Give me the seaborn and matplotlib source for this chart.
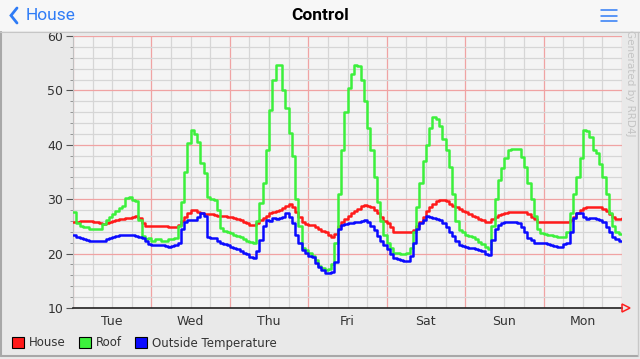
import numpy as np
import pandas as pd
import matplotlib
matplotlib.use("Agg")
import matplotlib.pyplot as plt
import seaborn as sns
from matplotlib.patches import Patch, Rectangle
from matplotlib.lines import Line2D

# hourly readings from Tue 00:00; one row per day, last value = end of week
hours = np.arange(0, 169)

house = [
    25.8, 25.8, 26.0, 26.0, 26.0, 26.0, 25.8, 25.8, 25.6, 25.5, 25.6, 25.8, 26.0, 26.2, 26.3, 26.4, 26.5, 26.6, 26.8, 26.9, 26.6, 25.6, 25.0, 25.0,
    25.0, 25.1, 25.1, 25.0, 25.0, 24.9, 24.9, 24.9, 25.2, 26.0, 26.8, 27.5, 28.0, 28.0, 27.6, 27.4, 27.3, 27.3, 27.2, 27.1, 27.0, 27.0, 26.9, 26.8,
    26.7, 26.5, 26.3, 26.1, 25.8, 25.6, 25.3, 25.2, 25.6, 26.1, 26.6, 27.0, 27.4, 27.7, 27.9, 28.1, 28.4, 28.7, 29.2, 28.6, 27.6, 26.8, 25.8, 25.5,
    25.3, 25.2, 24.9, 24.6, 24.2, 23.9, 23.5, 23.1, 23.6, 25.0, 25.8, 26.4, 27.0, 27.4, 27.8, 28.2, 28.7, 28.9, 28.8, 28.6, 28.0, 27.4, 26.8, 26.0,
    25.6, 24.8, 24.0, 24.0, 24.0, 24.0, 24.0, 24.0, 24.3, 25.0, 25.8, 26.8, 27.8, 28.6, 29.2, 29.6, 29.8, 29.8, 29.6, 29.2, 28.8, 28.5, 28.2, 27.9,
    27.6, 27.3, 27.0, 26.7, 26.4, 26.1, 25.8, 25.8, 26.3, 26.8, 27.1, 27.3, 27.5, 27.6, 27.6, 27.7, 27.7, 27.7, 27.6, 27.2, 26.8, 26.3, 25.9, 25.8,
    25.8, 25.8, 25.8, 25.8, 25.8, 25.8, 25.8, 25.8, 26.2, 26.8, 27.5, 28.0, 28.4, 28.6, 28.6, 28.6, 28.6, 28.5, 28.2, 27.8, 27.3, 26.8, 26.4, 26.4,
    26.5,
]

roof = [
    27.7, 25.6, 25.0, 24.9, 24.8, 24.6, 24.6, 24.6, 24.6, 25.5, 26.2, 26.8, 27.3, 27.8, 28.3, 28.8, 30.2, 30.4, 29.8, 29.6, 26.2, 23.2, 22.6, 22.8,
    22.4, 22.6, 22.6, 22.4, 22.4, 22.6, 22.6, 22.8, 25.0, 29.5, 35.0, 40.3, 42.7, 42.0, 40.5, 36.6, 34.8, 30.4, 30.0, 29.8, 28.0, 24.7, 24.2, 23.9,
    23.8, 23.5, 23.2, 23.0, 22.6, 22.4, 22.2, 22.0, 26.0, 29.3, 33.0, 39.0, 46.4, 51.9, 54.7, 54.7, 50.0, 46.8, 42.2, 38.0, 30.0, 25.0, 21.0, 20.6,
    20.2, 19.6, 18.8, 17.8, 17.4, 17.0, 17.2, 18.0, 22.0, 31.0, 39.0, 46.0, 50.5, 53.0, 54.7, 54.5, 52.0, 48.0, 43.0, 39.0, 34.0, 29.5, 26.0, 23.5,
    22.0, 21.0, 20.2, 20.1, 20.0, 20.0, 20.2, 21.0, 24.0, 28.6, 33.0, 37.0, 40.0, 43.0, 45.1, 44.8, 43.5, 41.0, 39.0, 36.0, 31.0, 26.0, 24.3, 24.0,
    23.5, 23.3, 23.0, 22.6, 22.2, 21.8, 21.2, 20.8, 25.0, 30.0, 33.5, 35.8, 37.5, 39.0, 39.3, 39.3, 39.2, 37.8, 36.0, 33.0, 30.0, 27.0, 24.5, 23.8,
    23.6, 23.5, 23.4, 23.2, 23.0, 23.0, 23.0, 24.0, 27.5, 31.0, 34.0, 37.5, 42.7, 42.5, 41.5, 39.0, 38.5, 36.5, 34.0, 31.0, 27.5, 25.0, 24.0, 23.6,
    23.6,
]

outside = [
    23.4, 23.1, 22.9, 22.7, 22.5, 22.4, 22.4, 22.4, 22.4, 22.4, 22.6, 22.9, 23.0, 23.2, 23.4, 23.4, 23.5, 23.5, 23.4, 23.3, 23.1, 22.8, 22.3, 21.8,
    21.6, 21.6, 21.5, 21.6, 21.4, 21.3, 21.4, 21.5, 22.0, 24.5, 25.8, 26.2, 26.2, 26.2, 26.8, 27.4, 27.0, 23.0, 22.9, 22.9, 22.4, 22.0, 21.8, 21.5,
    21.3, 21.0, 20.8, 20.5, 20.2, 19.9, 19.4, 19.2, 20.5, 22.5, 25.0, 26.2, 26.0, 26.5, 26.3, 26.6, 26.8, 27.4, 26.8, 25.6, 23.5, 22.0, 20.6, 20.1,
    19.6, 19.3, 18.3, 17.5, 17.0, 16.4, 16.5, 16.6, 18.5, 24.5, 25.3, 25.5, 25.6, 25.6, 25.8, 25.9, 26.0, 26.2, 25.8, 25.0, 24.3, 23.2, 22.3, 21.5,
    20.8, 20.0, 19.2, 19.0, 18.8, 18.7, 18.7, 19.5, 22.0, 24.5, 25.6, 26.2, 27.0, 26.8, 26.6, 26.3, 26.2, 25.6, 24.9, 24.0, 23.2, 22.3, 21.6, 21.4,
    21.3, 21.0, 21.0, 20.8, 20.7, 20.4, 20.0, 19.8, 22.5, 24.5, 25.3, 25.6, 25.9, 25.9, 25.9, 25.9, 25.6, 24.9, 24.0, 22.9, 22.5, 22.0, 22.0, 22.0,
    22.0, 21.8, 21.6, 21.4, 21.3, 21.3, 21.8, 22.0, 24.0, 26.5, 27.4, 27.4, 26.8, 26.4, 26.5, 26.6, 26.4, 26.2, 25.8, 24.9, 24.0, 23.0, 22.6, 22.3,
    22.3,
]

days = ["Tue", "Wed", "Thu", "Fri", "Sat", "Sun", "Mon"]
series_names = ["House", "Roof", "Outside Temperature"]
colors = ["#ff1a1a", "#3cf03c", "#0a0aff"]

df = pd.concat([
    pd.DataFrame({"hour": hours, "temp": vals, "series": name})
    for name, vals in zip(series_names, [house, roof, outside])
])

sns.set_theme(style="white")
plt.rcParams["font.family"] = ["DejaVu Sans"]

W, H = 640, 359
fig = plt.figure(figsize=(6.4, 3.59), dpi=100)
fig.patch.set_facecolor("#e9e9e9")

def px(x, y):
    return x / W, 1 - y / H

# iOS navigation bar
fig.add_artist(Rectangle((0, 1 - 31 / H), 1, 31 / H, transform=fig.transFigure,
                         facecolor="#f7f7f7", edgecolor="none", zorder=5))
fig.add_artist(Line2D([0, 1], [1 - 31.5 / H] * 2, transform=fig.transFigure,
                      color="#c6c6c6", lw=0.8, zorder=6))
fig.text(0.5, 1 - 15.5 / H, "Control", ha="center", va="center", fontsize=12.5,
         fontweight="bold", family="Roboto", color="black", zorder=7)
fig.text(*px(26, 15.5), "House", ha="left", va="center", fontsize=12.5,
         family="Roboto", color="#2f7cf6", zorder=7)
cx, cy = zip(px(17, 8), px(11, 15.5), px(17, 23))
fig.add_artist(Line2D(cx, cy, transform=fig.transFigure, color="#2f7cf6",
                      lw=2.0, solid_capstyle="round", solid_joinstyle="miter", zorder=7))
for yy in (10, 15.5, 21):
    hx, hy = zip(px(601, yy), px(617, yy))
    fig.add_artist(Line2D(hx, hy, transform=fig.transFigure, color="#2f7cf6",
                          lw=1.1, zorder=7))

# chart frame
fig.add_artist(Line2D([1 / W, 1 / W], [1 - 356 / H, 1 - 32 / H], transform=fig.transFigure,
                      color="#a8a8a8", lw=1.5))
fig.add_artist(Line2D([1 / W, 638 / W], [1 - 356 / H] * 2, transform=fig.transFigure,
                      color="#a8a8a8", lw=1.5))
fig.add_artist(Line2D([638 / W, 638 / W], [1 - 356 / H, 1 - 32 / H], transform=fig.transFigure,
                      color="#c8c8c8", lw=1.0))

fig.text(*px(630, 30), "Generated by RRD4J", rotation=-90, ha="center", va="top",
         fontsize=7.5, color="#c4c4c4", zorder=1)

ax = fig.add_axes([73 / W, (H - 308) / H, 549 / W, 272 / H])
ax.set_facecolor("#f4f4f4")

# grid: grey every 6 h / 2 deg, red every day / 10 deg
for v in range(0, 169, 6):
    ax.axvline(v, color="#f0a3a3" if v % 24 == 0 else "#d6d6d6", lw=0.9, zorder=0.5)
for v in range(10, 61, 2):
    ax.axhline(v, color="#f0a3a3" if v % 10 == 0 else "#d6d6d6", lw=0.9, zorder=0.5)

sns.lineplot(data=df, x="hour", y="temp", hue="series", palette=colors,
             hue_order=series_names, drawstyle="steps-post", linewidth=1.8,
             legend=False, errorbar=None, ax=ax, zorder=3)

ax.set_xlim(0, 168)
ax.set_ylim(10, 60)
ax.set_xticks(np.arange(12, 168, 24))
ax.set_xticklabels(days)
ax.set_yticks(range(10, 61, 10))
ax.set_yticks(range(10, 61, 2), minor=True)
ax.set_xlabel("")
ax.set_ylabel("")
ax.tick_params(axis="x", length=0, pad=5, labelsize=9, labelcolor="#333333")
ax.tick_params(axis="y", which="major", left=True, length=5, width=0.8, color="#555555",
               pad=2, labelsize=9, labelcolor="#333333")
ax.tick_params(axis="y", which="minor", left=True, length=2, width=0.6, color="#888888")

for s in ("top", "right"):
    ax.spines[s].set_visible(False)
ax.spines["left"].set_color("#c0c0c0")
ax.spines["left"].set_linewidth(0.8)
ax.spines["bottom"].set_color("#222222")
ax.spines["bottom"].set_linewidth(1.2)
ax.spines["bottom"].set_zorder(4)
ax.plot([1.008], [0], transform=ax.transAxes, marker=">", ms=6, mfc="none",
        mec="#ff2020", mew=1.1, clip_on=False, zorder=5)

handles = [Patch(facecolor=c, edgecolor="black", lw=0.8) for c in colors]
fig.legend(handles, series_names, loc="center left", bbox_to_anchor=px(12, 343),
           ncol=3, frameon=False, fontsize=8.5, handlelength=1.0, handleheight=1.0,
           handletextpad=0.45, columnspacing=1.1, borderpad=0, borderaxespad=0,
           labelcolor="#333333")

fig.savefig("out.png", dpi=100)
